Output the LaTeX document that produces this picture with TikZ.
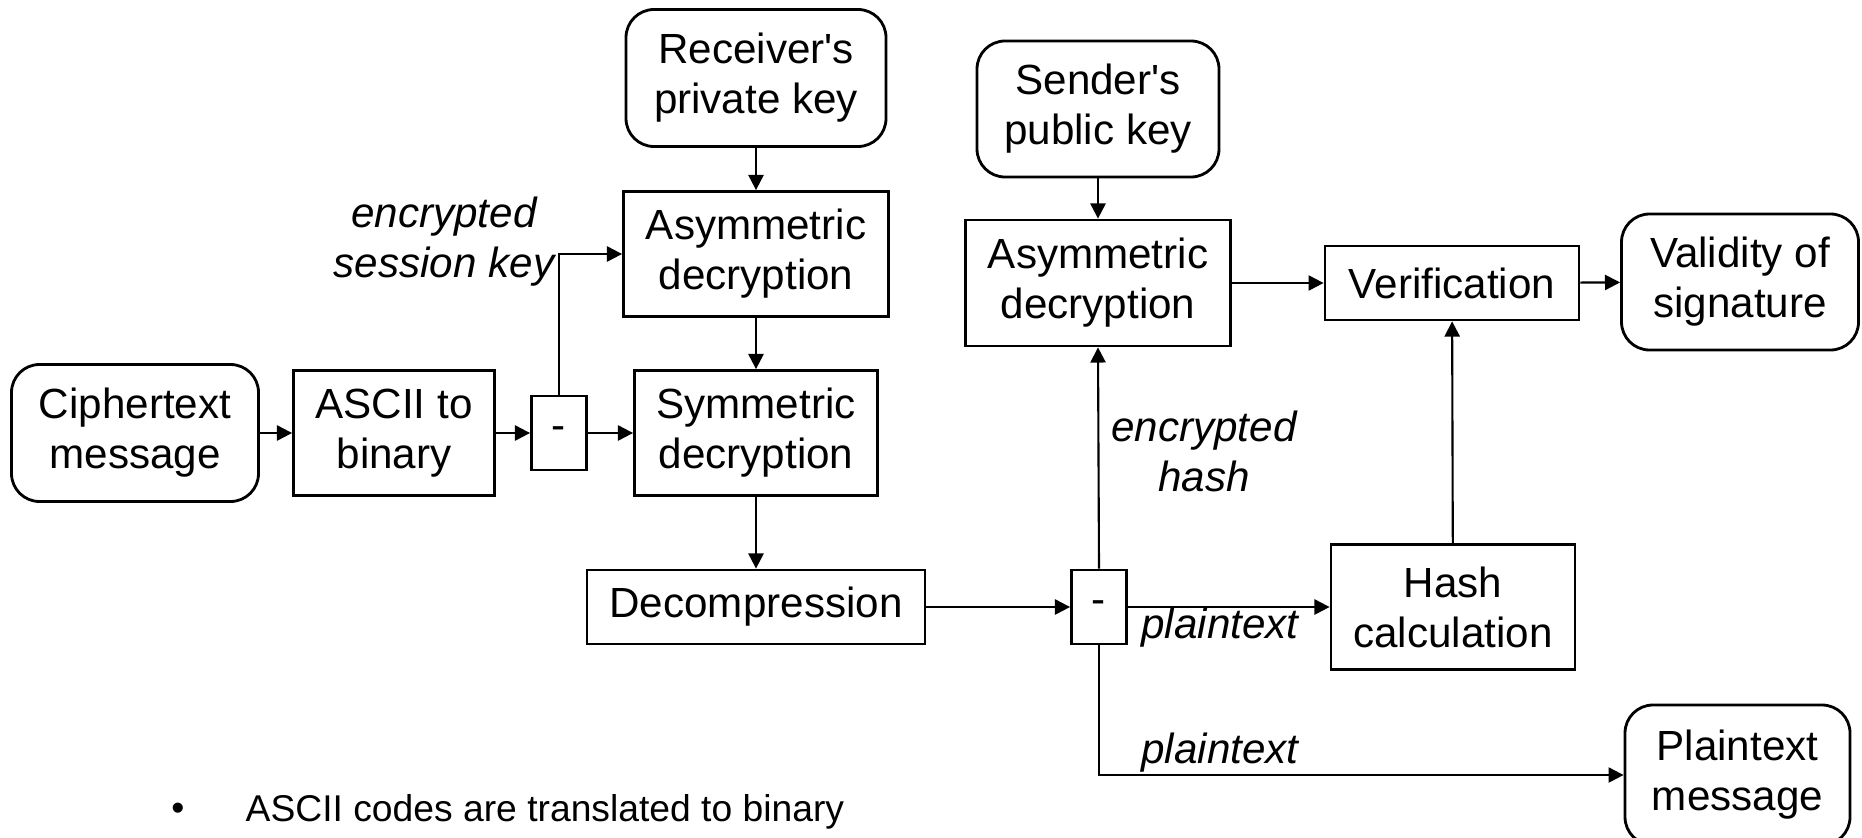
\documentclass[tikz,border=0pt]{standalone}
\usepackage{fontspec}
\setmainfont{Liberation Sans}
\usepackage{tikz}
\usetikzlibrary{shapes,arrows.meta,positioning}

\begin{document}
\begin{tikzpicture}[every node/.style={font=\fontsize{12}{14.2}\selectfont},
  box/.style={draw, line width=0.8pt, align=center, inner sep=2pt},
  keybox/.style={box, rounded corners=0.28cm},
  splitbox/.style={box, minimum width=0.55cm, minimum height=0.74cm},
  lbl/.style={font=\fontsize{12}{14.2}\selectfont\itshape, align=center, inner sep=0pt},
  arr/.style={-{Triangle[length=4.3pt,width=4.3pt]}, line width=0.6pt}]
  \useasboundingbox (0,0) rectangle (18.62,-8.37);
  \clip (0,0) rectangle (18.62,-8.37);
  % Session key part
  \node[keybox, minimum width=2.60cm, minimum height=1.37cm] (recvkey) at (7.56,-0.78) {Receiver\textquotesingle s\\private key};
  \node[box, minimum width=2.65cm, minimum height=1.25cm] (asymdec) at (7.56,-2.54) {Asymmetric\\decryption};
  \node[box, minimum width=2.43cm, minimum height=1.25cm] (symdec) at (7.56,-4.33) {Symmetric\\decryption};
  \node[keybox, minimum width=2.47cm, minimum height=1.37cm] (cipher) at (1.35,-4.33) {Ciphertext\\message};
  \node[box, minimum width=2.01cm, minimum height=1.25cm] (ascii) at (3.94,-4.33) {ASCII to\\binary};
  \node[splitbox] (split) at (5.59,-4.33) {-};
  \node[box, minimum width=3.38cm, minimum height=0.74cm] (decomp) at (7.56,-6.07) {Decompression};
  \node[lbl] (sesslbl) at (4.44,-2.42) {encrypted\\session key};
  % Signature part
  \node[splitbox] (splitb) at (10.99,-6.07) {-};
  \node[keybox, minimum width=2.42cm, minimum height=1.36cm] (sendkey) at (10.98,-1.09) {Sender\textquotesingle s\\public key};
  \node[box, minimum width=2.65cm, minimum height=1.26cm] (asymdecb) at (10.98,-2.83) {Asymmetric\\decryption};
  \node[box, minimum width=2.54cm, minimum height=0.74cm] (verif) at (14.52,-2.83) {Verification};
  \node[keybox, minimum width=2.37cm, minimum height=1.36cm] (valid) at (17.40,-2.82) {Validity of\\signature};
  \node[box, minimum width=2.44cm, minimum height=1.25cm] (hash) at (14.53,-6.07) {Hash\\calculation};
  \node[keybox, minimum width=2.25cm, minimum height=1.40cm] (plainmsg) at (17.375,-7.75) {Plaintext\\message};
  \node[lbl] (hashlbl) at (12.04,-4.51) {encrypted\\hash};
  \node[lbl] (ptlbl) at (12.20,-6.28) {plaintext};
  \node[lbl] (ptlblb) at (12.20,-7.53) {plaintext};
  % Note
  \node[inner sep=0pt] (bullet) at (1.78,-8.12) {\fontsize{10.6}{12}\selectfont\textbullet};
  \node[anchor=west, inner sep=0pt] (note) at (2.45,-8.12) {\fontsize{10.6}{12}\selectfont ASCII codes are translated to binary};
  % Connectors
  \draw[arr] (cipher) -- (ascii);
  \draw[arr] (ascii) -- (split);
  \draw[arr] (split) -- (symdec);
  \draw[arr] (split.north) |- (asymdec.west);
  \draw[arr] (recvkey) -- (asymdec);
  \draw[arr] (asymdec) -- (symdec);
  \draw[arr] (symdec) -- (decomp);
  \draw[arr] (decomp) -- (splitb);
  \draw[arr] (splitb) -- (hash);
  \draw[arr] (splitb.north) -- (asymdecb.south);
  \draw[arr] (splitb.south) |- (plainmsg.west);
  \draw[arr] (sendkey) -- (asymdecb);
  \draw[arr] (asymdecb) -- (verif);
  \draw[arr] (hash) -- (verif);
  \draw[arr] (verif) -- (valid);
\end{tikzpicture}
\end{document}
